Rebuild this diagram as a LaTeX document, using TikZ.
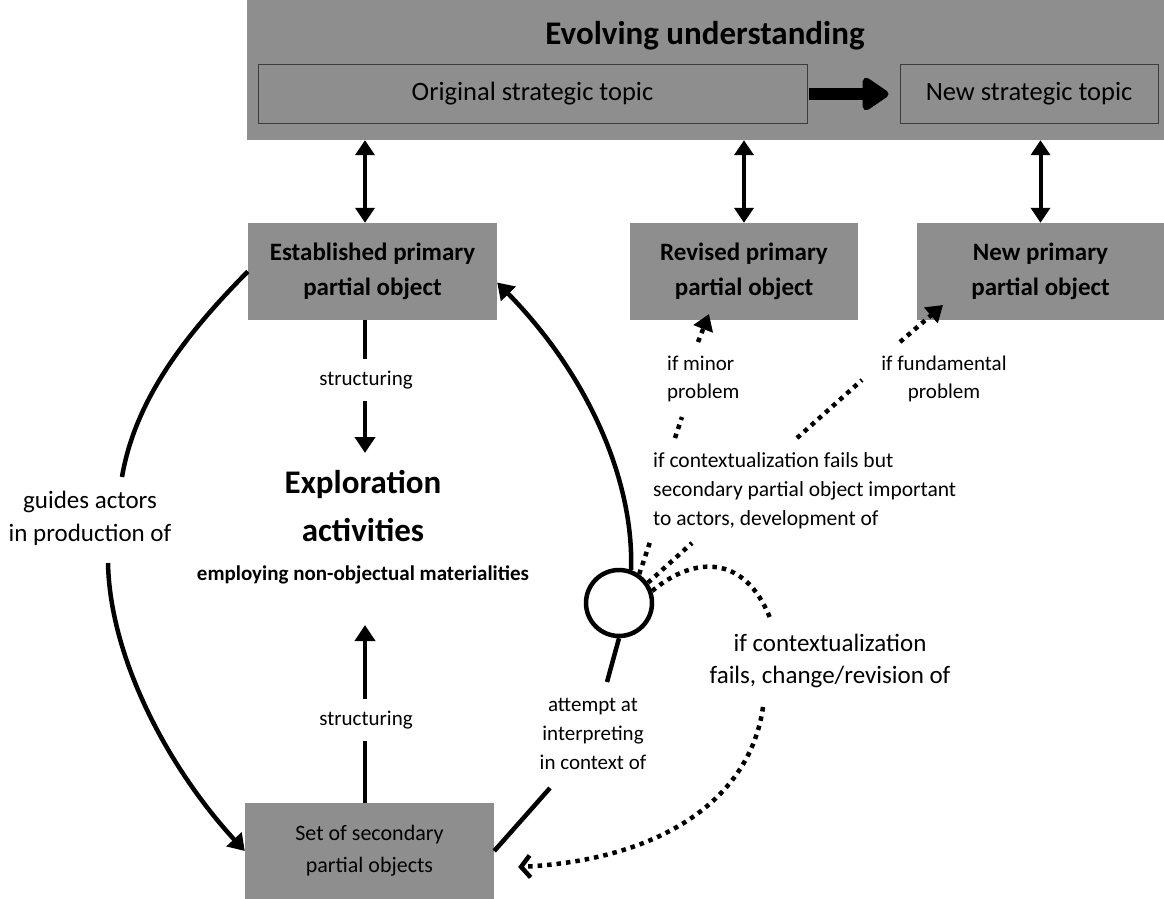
\documentclass[tikz,border=0pt]{standalone}
\usepackage{fontspec}
\setmainfont{Carlito}
\usetikzlibrary{arrows.meta}
\definecolor{boxgray}{RGB}{142,142,142}
\definecolor{edgegray}{RGB}{60,60,60}
\newcommand\fsz[2]{\fontsize{#1}{#2}\selectfont}

\begin{document}
\begin{tikzpicture}[x=1pt,y=-1pt,
  box/.style={fill=boxgray, inner sep=0pt, align=center},
  topic/.style={draw=edgegray, line width=1pt, fill=boxgray, inner sep=0pt,
    minimum height=58pt, font=\fsz{26.5}{32}},
  primary/.style={box, minimum height=97pt, font=\fsz{25}{35}\bfseries},
  lbl/.style={inner sep=0pt, align=center},
  solid line/.style={line width=4.5pt},
  arr/.style={line width=4.5pt, -{Triangle[length=16pt,width=20pt]}},
  dbl/.style={line width=4pt, {Triangle[length=15pt,width=19pt]}-{Triangle[length=15pt,width=19pt]}},
  dots/.style={line width=4.5pt, dash pattern=on 4.5pt off 5pt},
  dotarr/.style={dots, -{Triangle[length=16pt,width=20pt]}},
  dotbarb/.style={dots, -{Straight Barb[length=9pt,width=22pt]}}
]
\useasboundingbox (0,0) rectangle (1164,899);

% header band with the two strategic topics
\node[box, minimum width=917pt, minimum height=140pt] (top) at (705.5,70) {};
\node[lbl, font=\fsz{33}{38}\bfseries] (title) at (705,36) {Evolving understanding};
\node[topic, minimum width=549pt] (orig) at (532.5,94) {Original strategic topic};
\node[topic, minimum width=258pt] (newt) at (1029,94) {New strategic topic};
\draw[line width=12pt, -{Triangle[length=29pt,width=37pt,round]}, shorten <=1pt, shorten >=11pt]
  (orig.east) -- (newt.west);

% primary partial objects
\node[primary, minimum width=249pt] (est) at (372.5,271.5) {Established primary\\partial object};
\node[primary, minimum width=228pt] (rev) at (744,271.5) {Revised primary\\partial object};
\node[primary, minimum width=247pt] (newp) at (1040.5,271.5) {New primary\\partial object};

% secondary partial objects
\node[box, minimum width=249pt, minimum height=96pt, font=\fsz{22}{32}] (sec) at (369.5,851)
  {Set of secondary\\partial objects};

% links between the understanding and the primary objects
\coordinate (estx) at (365,0);
\draw[dbl] (top.south -| estx) -- (est.north -| estx);
\draw[dbl] (top.south -| rev.north) -- (rev.north);
\draw[dbl] (top.south -| newp.north) -- (newp.north);

% exploration activities in the middle
\node[lbl, font=\fsz{33}{48}\bfseries] (expl) at (363,506) {Exploration\\activities};
\node[lbl, font=\fsz{21}{25}\bfseries] (employ) at (363,575) {employing non-objectual materialities};

\coordinate (dnTip) at (365,453);
\coordinate (upTip) at (365,625);
\draw[arr] (est.south -| dnTip) -- (dnTip);
\draw[arr] (sec.north -| upTip) -- (upTip);
\node[lbl, fill=white, inner ysep=12pt, inner xsep=4pt, font=\fsz{21}{25}] (s1) at (366,380) {structuring};
\node[lbl, fill=white, inner ysep=12pt, inner xsep=4pt, font=\fsz{21}{25}] (s2) at (366,720) {structuring};

% left arc: guidance in production
\node[lbl, font=\fsz{25}{33}] (guide) at (90,518) {guides actors\\in production of};
\coordinate (la1) at (122,477);
\coordinate (la2) at (108,563);
\draw[solid line] (est.west) .. controls (185,335) and (135,400) .. (la1);
\draw[arr] (la2) .. controls (110,660) and (170,770) .. (sec.west);

% right arc: interpretation in context
\node[circle, draw, line width=4.5pt, fill=white, minimum size=66pt, inner sep=0pt] (hub) at (619,603) {};
\node[lbl, font=\fsz{21}{29}] (attempt) at (593,734) {attempt at\\interpreting\\in context of};
\coordinate (ra1) at (550,788);
\coordinate (ra2) at (607,682);
\draw[solid line] (sec.east) -- (ra1);
\draw[solid line] (hub.south) -- (ra2);
\draw[arr] (hub.70) .. controls (634,480) and (588,375) .. ([yshift=-11pt]est.east);

% outcomes of contextualization
\node[lbl, align=left, anchor=west, font=\fsz{21}{28}] (minor) at (667,379) {if minor\\problem};
\node[lbl, font=\fsz{21}{28}] (fund) at (944,379) {if fundamental\\problem};
\node[lbl, align=left, anchor=west, font=\fsz{21.5}{29}] (butimp) at (653,491)
  {if contextualization fails but\\secondary partial object important\\to actors, development of};
\node[lbl, font=\fsz{25}{32}] (ctxfail) at (830,661) {if contextualization\\fails, change/revision of};

\coordinate (m1) at (650,542);
\coordinate (m2) at (692,543);
\coordinate (m3) at (770,618);
\draw[dots] (hub.55) -- (m1);
\draw[dots] (hub.35) -- (m2);
\draw[dots] (hub.20) .. controls (695,555) and (745,555) .. (m3);

\coordinate (mi1) at (675,438);
\coordinate (mi2) at (682,417);
\coordinate (mi3) at (698,342);
\coordinate (miTip) at (709,314);
\draw[dots] (mi1) -- (mi2);
\draw[dotarr] (mi3) -- (miTip);

\coordinate (fu1) at (797,438);
\coordinate (fu2) at (862,380);
\coordinate (fu3) at (900,342);
\coordinate (fuTip) at (943,305);
\draw[dots] (fu1) -- (fu2);
\draw[dotarr] (fu3) -- (fuTip);

\coordinate (cf1) at (763,707);
\draw[dotbarb] (cf1) .. controls (750,800) and (660,860) .. ([xshift=24pt,yshift=-16pt]sec.east);
\end{tikzpicture}
\end{document}
